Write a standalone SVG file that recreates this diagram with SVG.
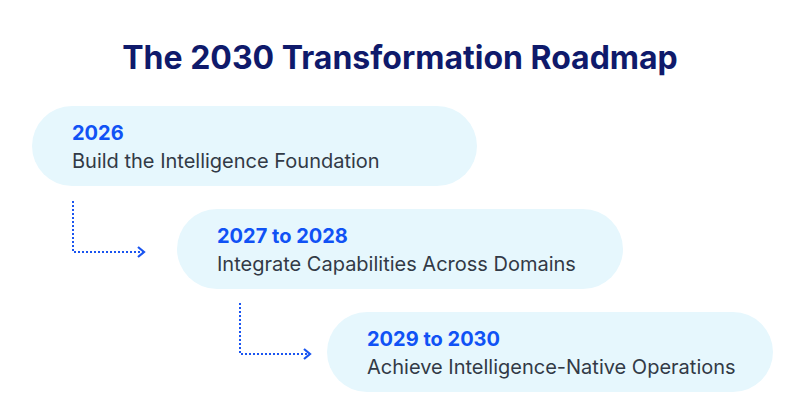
<svg xmlns="http://www.w3.org/2000/svg" width="800" height="420" viewBox="0 0 800 420">
<style>
.pill{fill:#e6f7fd}
.yr{font-family:Inter,"Liberation Sans",sans-serif;font-size:20px;font-weight:700;fill:#1052f5}
.ds{font-family:Inter,"Liberation Sans",sans-serif;font-size:20px;fill:#323a46}
.title{font-family:Inter,"Liberation Sans",sans-serif;font-size:32px;font-weight:700;fill:#0f1a6b}
.con{fill:none;stroke:#1a55f0;stroke-width:2;stroke-dasharray:2 2}
.arr{fill:none;stroke:#1a55f0;stroke-width:2.2}
</style>
<rect width="800" height="420" fill="#ffffff"/>
<text class="title" x="400" y="69" text-anchor="middle">The 2030 Transformation Roadmap</text>
<g id="node-2026">
<rect class="pill" x="32" y="106" width="445" height="80" rx="40"/>
<text class="yr" x="72" y="140">2026</text>
<text class="ds" x="72" y="168">Build the Intelligence Foundation</text>
</g>
<g id="node-2027">
<rect class="pill" x="177" y="209" width="446" height="80" rx="40"/>
<text class="yr" x="217" y="243">2027 to 2028</text>
<text class="ds" x="217" y="271">Integrate Capabilities Across Domains</text>
</g>
<g id="node-2029">
<rect class="pill" x="327" y="312" width="446" height="80" rx="40"/>
<text class="yr" x="367" y="346">2029 to 2030</text>
<text class="ds" x="367" y="374">Achieve Intelligence-Native Operations</text>
</g>
<g id="connectors">
<path class="con" d="M73 201 V252 H143"/>
<path class="arr" d="M138 247 L144 252 L138 257"/>
<path class="con" d="M240 303 V354 H309"/>
<path class="arr" d="M304 349 L310 354 L304 359"/>
</g>
</svg>
